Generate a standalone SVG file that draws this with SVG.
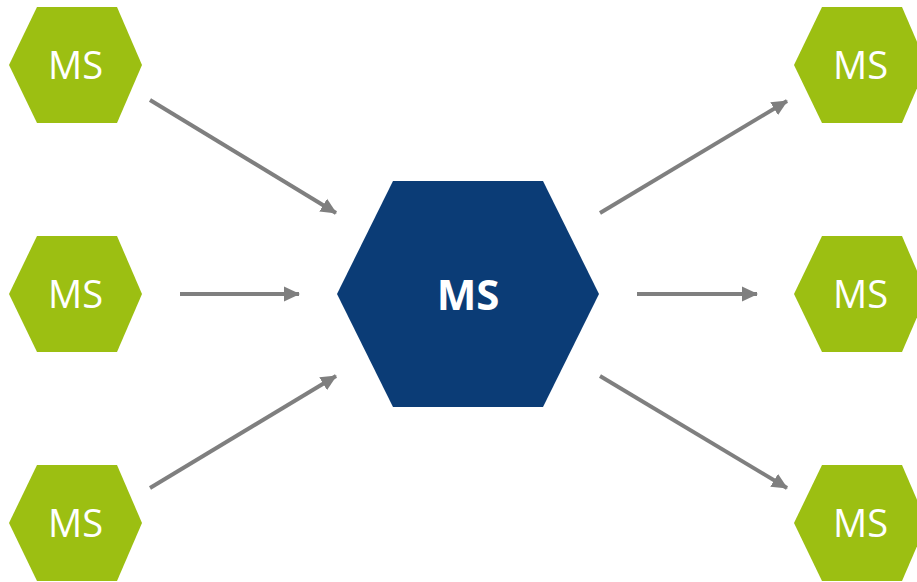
<svg xmlns="http://www.w3.org/2000/svg" width="917" height="582" viewBox="0 0 917 582">
  <style>
    .svc { fill: #9CBF12; }
    .hub { fill: #0B3C76; }
    .lbl { fill: #ffffff; font-family: "Open Sans", "Liberation Sans", sans-serif; text-anchor: middle; }
    .svc-lbl { font-size: 38px; font-weight: 400; }
    .hub-lbl { font-size: 42px; font-weight: 700; }
    .flow { stroke: #7F7F7F; stroke-width: 4; fill: none; marker-end: url(#tip); }
  </style>
  <defs>
    <marker id="tip" markerUnits="userSpaceOnUse" markerWidth="16" markerHeight="16" viewBox="0 0 16 16" refX="15" refY="8" orient="auto">
      <path d="M0,0.5 L16,8 L0,15.5 Z" fill="#7F7F7F"/>
    </marker>
    <polygon id="hex" points="-66.5,0 -38.5,-58 41.5,-58 66.5,0 41.5,58 -38.5,58"/>
  </defs>

  <!-- connectors -->
  <g id="connectors">
    <line class="flow" x1="150" y1="100" x2="336" y2="213"/>
    <line class="flow" x1="180" y1="294" x2="299" y2="294"/>
    <line class="flow" x1="150" y1="488" x2="336" y2="376"/>
    <line class="flow" x1="600" y1="213" x2="787" y2="101"/>
    <line class="flow" x1="637" y1="294" x2="757" y2="294"/>
    <line class="flow" x1="600" y1="376" x2="787" y2="488"/>
  </g>

  <!-- upstream services -->
  <g id="ms-left-top" transform="translate(75.5,65)">
    <use href="#hex" class="svc"/>
    <text class="lbl svc-lbl" x="0" y="14">MS</text>
  </g>
  <g id="ms-left-mid" transform="translate(75.5,294)">
    <use href="#hex" class="svc"/>
    <text class="lbl svc-lbl" x="0" y="14">MS</text>
  </g>
  <g id="ms-left-bot" transform="translate(75.5,523)">
    <use href="#hex" class="svc"/>
    <text class="lbl svc-lbl" x="0" y="14">MS</text>
  </g>

  <!-- central service -->
  <g id="ms-center">
    <polygon class="hub" points="337,294 393,181 543,181 599,294 543,407 393,407"/>
    <text class="lbl hub-lbl" x="468" y="310">MS</text>
  </g>

  <!-- downstream services -->
  <g id="ms-right-top" transform="translate(860.5,65)">
    <use href="#hex" class="svc"/>
    <text class="lbl svc-lbl" x="0" y="14">MS</text>
  </g>
  <g id="ms-right-mid" transform="translate(860.5,294)">
    <use href="#hex" class="svc"/>
    <text class="lbl svc-lbl" x="0" y="14">MS</text>
  </g>
  <g id="ms-right-bot" transform="translate(860.5,523)">
    <use href="#hex" class="svc"/>
    <text class="lbl svc-lbl" x="0" y="14">MS</text>
  </g>
</svg>
